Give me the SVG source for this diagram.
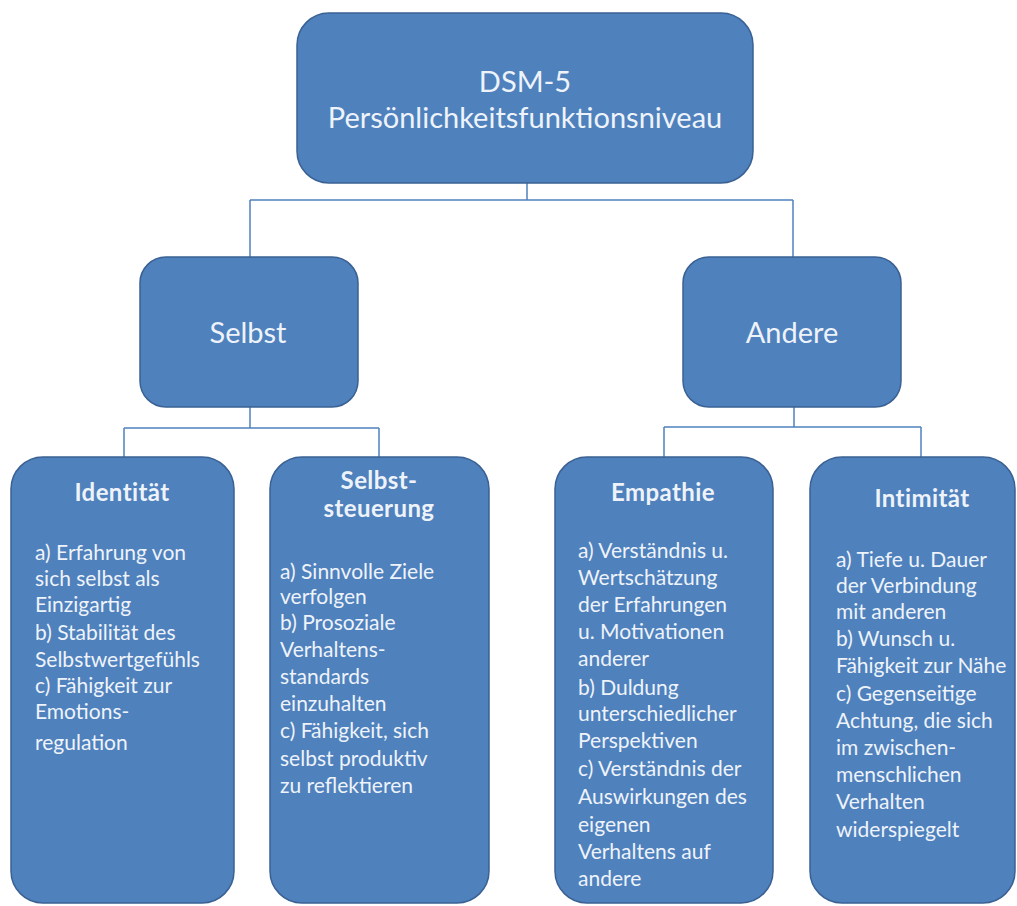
<svg xmlns="http://www.w3.org/2000/svg" width="1017" height="906" viewBox="0 0 1017 906">
<style>
.box{fill:#4f81bd;stroke:#3a6193;stroke-width:1.5}
.conn{fill:none;stroke:#4f81bd;stroke-width:1.5}
.t{font-family:Lato,"Open Sans","Liberation Sans",sans-serif;fill:#eef3fa}
.big{font-size:29px;text-anchor:middle}
.title{font-size:24px;font-weight:bold;text-anchor:middle;letter-spacing:0.4px}
.body{font-size:21px}
</style>
<rect width="1017" height="906" fill="#ffffff"/>
<g id="connectors">
<path class="conn" d="M527,183 V200 M250,200 H793 M250,200 V257 M793,200 V257"/>
<path class="conn" d="M250,407 V428 M124,428 H379 M124,428 V457 M379,428 V457"/>
<path class="conn" d="M794,407 V427 M664,427 H921 M664,427 V457 M921,427 V457"/>
</g>
<g id="root">
<rect class="box" x="297" y="13" width="456" height="170" rx="32"/>
<text class="t big" x="525" y="92">DSM-5</text>
<text class="t big" x="525" y="128">Persönlichkeitsfunktionsniveau</text>
</g>
<g id="selbst">
<rect class="box" x="140" y="257" width="218" height="150" rx="26"/>
<text class="t big" x="248" y="343">Selbst</text>
</g>
<g id="andere">
<rect class="box" x="683" y="257" width="218" height="150" rx="26"/>
<text class="t big" x="792" y="343">Andere</text>
</g>
<g id="identitaet">
<rect class="box" x="11" y="457" width="223" height="446" rx="32"/>
<text class="t title" x="122" y="501">Identität</text>
<text class="t body" x="35" y="560">
<tspan x="35" y="560">a) Erfahrung von</tspan>
<tspan x="35" y="586">sich selbst als</tspan>
<tspan x="35" y="612">Einzigartig</tspan>
<tspan x="35" y="640">b) Stabilität des</tspan>
<tspan x="35" y="667">Selbstwertgefühls</tspan>
<tspan x="35" y="693">c) Fähigkeit zur</tspan>
<tspan x="35" y="719">Emotions-</tspan>
<tspan x="35" y="750">regulation</tspan>
</text>
</g>
<g id="selbststeuerung">
<rect class="box" x="270" y="457" width="219" height="446" rx="32"/>
<text class="t title" x="379" y="489">Selbst-</text>
<text class="t title" x="379" y="517">steuerung</text>
<text class="t body" x="280" y="579">
<tspan x="280" y="579">a) Sinnvolle Ziele</tspan>
<tspan x="280" y="604">verfolgen</tspan>
<tspan x="280" y="630">b) Prosoziale</tspan>
<tspan x="280" y="657">Verhaltens-</tspan>
<tspan x="280" y="684">standards</tspan>
<tspan x="280" y="711">einzuhalten</tspan>
<tspan x="280" y="738">c) Fähigkeit, sich</tspan>
<tspan x="280" y="766">selbst produktiv</tspan>
<tspan x="280" y="793">zu reflektieren</tspan>
</text>
</g>
<g id="empathie">
<rect class="box" x="555" y="457" width="218" height="446" rx="32"/>
<text class="t title" x="663" y="501">Empathie</text>
<text class="t body" x="578" y="558">
<tspan x="578" y="558">a) Verständnis u.</tspan>
<tspan x="578" y="585">Wertschätzung</tspan>
<tspan x="578" y="612">der Erfahrungen</tspan>
<tspan x="578" y="639">u. Motivationen</tspan>
<tspan x="578" y="666">anderer</tspan>
<tspan x="578" y="695">b) Duldung</tspan>
<tspan x="578" y="721">unterschiedlicher</tspan>
<tspan x="578" y="748">Perspektiven</tspan>
<tspan x="578" y="776">c) Verständnis der</tspan>
<tspan x="578" y="804">Auswirkungen des</tspan>
<tspan x="578" y="832">eigenen</tspan>
<tspan x="578" y="859">Verhaltens auf</tspan>
<tspan x="578" y="886">andere</tspan>
</text>
</g>
<g id="intimitaet">
<rect class="box" x="810" y="457" width="205" height="446" rx="32"/>
<text class="t title" x="922" y="507">Intimität</text>
<text class="t body" x="836" y="567">
<tspan x="836" y="567">a) Tiefe u. Dauer</tspan>
<tspan x="836" y="593">der Verbindung</tspan>
<tspan x="836" y="619">mit anderen</tspan>
<tspan x="836" y="646">b) Wunsch u.</tspan>
<tspan x="836" y="673">Fähigkeit zur Nähe</tspan>
<tspan x="836" y="701">c) Gegenseitige</tspan>
<tspan x="836" y="728">Achtung, die sich</tspan>
<tspan x="836" y="755">im zwischen-</tspan>
<tspan x="836" y="782">menschlichen</tspan>
<tspan x="836" y="809">Verhalten</tspan>
<tspan x="836" y="837">widerspiegelt</tspan>
</text>
</g>
</svg>
